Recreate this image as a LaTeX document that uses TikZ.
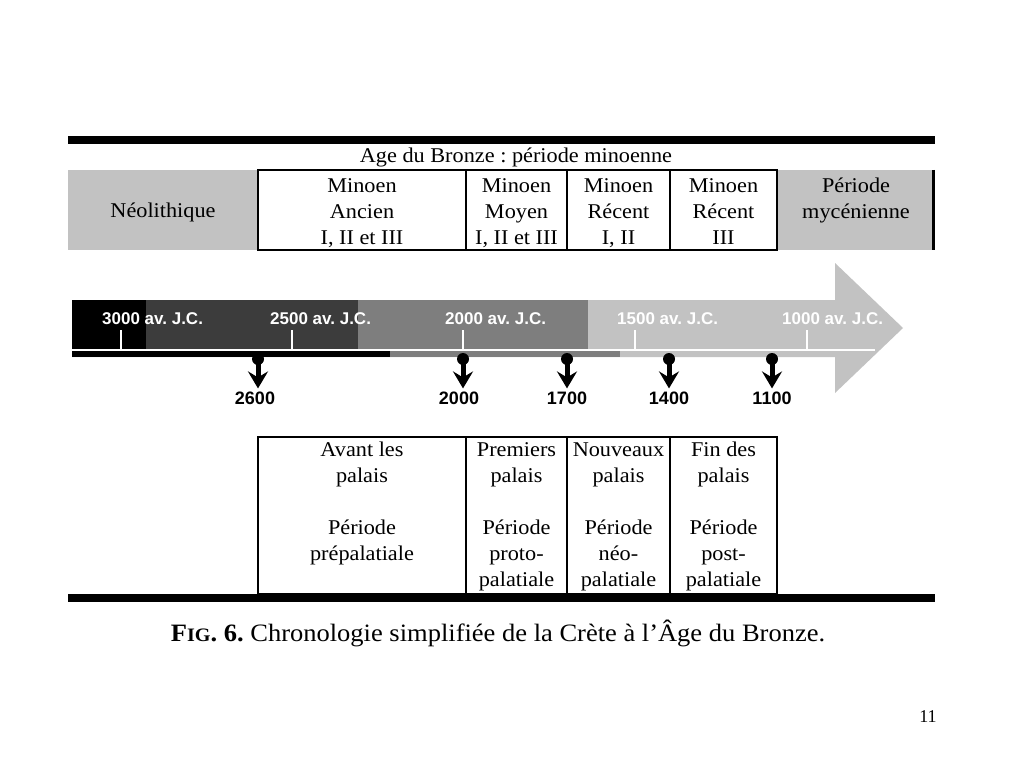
\documentclass[tikz,border=0pt]{standalone}
\usepackage{fontspec}
\setmainfont{Liberation Serif}[FakeStretch=1.06]
\newfontfamily\yearfont{Liberation Sans}
\newfontfamily\plainserif{Liberation Serif}
\usetikzlibrary{arrows.meta}
\definecolor{lgray}{HTML}{C2C2C2}
\definecolor{mgray}{HTML}{7E7E7E}
\definecolor{dgray}{HTML}{3C3C3C}
\begin{document}
\frenchspacing
\begin{tikzpicture}[x=1pt,y=-1pt,
  cell/.style={draw=black, line width=2pt, fill=white, rectangle, inner sep=0},
  gcell/.style={fill=lgray, rectangle, inner sep=0},
  boxtext/.style={font=\fontsize{21}{26}\selectfont, align=center, inner sep=0},
  yr/.style={font=\yearfont\bfseries\fontsize{17}{17}\selectfont, text=white, anchor=west, inner sep=0},
  num/.style={font=\yearfont\bfseries\fontsize{18}{18}\selectfont, inner sep=0},
  pinhead/.style={circle, fill=black, minimum size=12pt, inner sep=0},
  pinarrow/.style={line width=5pt, -{Stealth[length=17pt, width=20pt, inset=6pt]}, shorten >=3pt},
  bar/.style={fill=black},
  tick/.style={draw=white, line width=2.5pt}
]
\useasboundingbox[fill=white] (0,0) rectangle (1024,768);

% top bar
\fill[bar] (68,136) rectangle (935,144);

% title
\node[boxtext] (title) at (516,157) {\strut Age du Bronze : période minoenne};

% top row
\node[gcell, minimum width=190, minimum height=80] (neo) at (163,210) {};
\node[boxtext] (neot) at (163,212) {\strut Néolithique};
\node[gcell, minimum width=156, minimum height=80] (myc) at (855,210) {};
\node[boxtext] (myct) at (856,200) {\strut Période\\mycénienne\strut};
\draw[line width=3pt] (myc.north east) -- (myc.south east);
\node[cell, minimum width=208, minimum height=80] (ma) at (362,210) {};
\node[cell, minimum width=101, minimum height=80] (mm) at (516.5,210) {};
\node[cell, minimum width=103, minimum height=80] (mr1) at (618.5,210) {};
\node[cell, minimum width=107, minimum height=80] (mr3) at (723.5,210) {};
\node[boxtext] (mat) at (362,213) {\strut Minoen\\Ancien\\I, II et III\strut};
\node[boxtext] (mmt) at (516.5,213) {\strut Minoen\\Moyen\\I, II et III\strut};
\node[boxtext] (mr1t) at (618.5,213) {\strut Minoen\\Récent\\I, II\strut};
\node[boxtext] (mr3t) at (723.5,213) {\strut Minoen\\Récent\\III\strut};

% big arrow
\fill[lgray] (72,300) -- (835,300) -- (835,263) -- (903,328) -- (835,393) -- (835,357) -- (72,357) -- cycle;
\fill[black] (72,300) rectangle (146,349);
\fill[dgray] (146,300) rectangle (358,349);
\fill[mgray] (358,300) rectangle (588,349);
\fill[black] (72,351) rectangle (390,357);
\fill[mgray] (390,351) rectangle (620,357);
\draw[tick] (72,350) -- (875,350);
\foreach \x in {121,292,463,635,807} \draw[tick] (\x,330) -- (\x,350);
\node[yr] (y3000) at (102,319) {3000 av. J.C.};
\node[yr] (y2500) at (270,319) {2500 av. J.C.};
\node[yr] (y2000) at (445,319) {2000 av. J.C.};
\node[yr] (y1500) at (617,319) {1500 av. J.C.};
\node[yr] (y1000) at (782,319) {1000 av. J.C.};

% pins
\foreach \px/\lx/\t in {258/255/2600, 463/459/2000, 567/567/1700, 669/669/1400, 772/772/1100}{
  \node[pinhead] (c\t) at (\px,359) {};
  \node[num] (n\t) at (\lx,398) {\t};
  \draw[pinarrow] (c\t.center) -- (c\t |- n\t.north);
}

% bottom row
\node[cell, minimum width=208, minimum height=157] (b1) at (362,515.5) {};
\node[cell, minimum width=101, minimum height=157] (b2) at (516.5,515.5) {};
\node[cell, minimum width=103, minimum height=157] (b3) at (618.5,515.5) {};
\node[cell, minimum width=107, minimum height=157] (b4) at (723.5,515.5) {};
\node[boxtext, anchor=north] (b1t) at (362,438) {\strut Avant les\\palais\\\mbox{}\\Période\\prépalatiale};
\node[boxtext, anchor=north] (b2t) at (516.5,438) {\strut Premiers\\palais\\\mbox{}\\Période\\proto-\\palatiale};
\node[boxtext, anchor=north] (b3t) at (618.5,438) {\strut Nouveaux\\palais\\\mbox{}\\Période\\néo-\\palatiale};
\node[boxtext, anchor=north] (b4t) at (723.5,438) {\strut Fin des\\palais\\\mbox{}\\Période\\post-\\palatiale};

\fill[bar] (68,594) rectangle (935,602);

% caption
\node[inner sep=0, font=\fontsize{25}{25}\selectfont] (cap) at (498,633)
  {{\bfseries F{\fontsize{19}{19}\selectfont IG}. 6.} Chronologie simplifiée de la Crète à l’Âge du Bronze.};

\node[inner sep=0, font=\plainserif\fontsize{18}{18}\selectfont] (page) at (928,717) {11};
\end{tikzpicture}
\end{document}
